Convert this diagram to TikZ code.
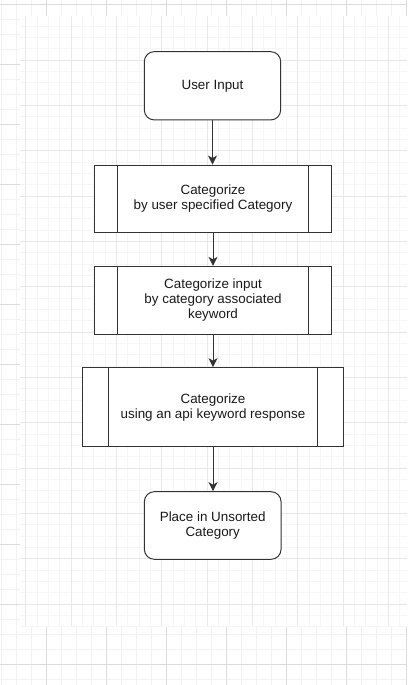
\documentclass[tikz,border=0pt]{standalone}
\usepackage{fontspec}
\setmainfont{Liberation Sans}
\usetikzlibrary{arrows.meta}
\definecolor{gmajor}{HTML}{DCDCDC}
\definecolor{gminor}{HTML}{F2F2F2}
\definecolor{imajor}{HTML}{E8E8E8}
\definecolor{iminor}{HTML}{F6F6F6}
\definecolor{lin}{HTML}{333333}
\definecolor{txt}{HTML}{1A1A1A}
\tikzset{
  base/.style={draw=lin, line width=1pt, fill=white, inner sep=0pt, align=center,
    text=txt, font=\fontsize{13.4}{15}\selectfont},
  term/.style={base, rounded corners=10pt},
  proc/.style={base},
  flow/.style={draw=lin, line width=1pt, -{Stealth[length=9pt,width=9pt,inset=2.5pt]}},
  bar/.style={draw=lin, line width=1pt}
}
\begin{document}
\begin{tikzpicture}[x=1pt,y=-1pt]
\useasboundingbox (0,0) rectangle (407,685);
\fill[white] (0,0) rectangle (407,685);
% outer grid
\foreach \i in {0,...,27} {\draw[gminor,line width=0.8pt] (1+15*\i,0) -- (1+15*\i,685);}
\foreach \i in {0,...,45} {\draw[gminor,line width=0.8pt] (0,4+15*\i) -- (407,4+15*\i);}
\foreach \i in {0,...,6} {\draw[gmajor,line width=0.8pt] (46+60*\i,0) -- (46+60*\i,685);}
\foreach \i in {0,...,11} {\draw[gmajor,line width=0.8pt] (0,4+60*\i) -- (407,4+60*\i);}
% inner sheet
\begin{scope}
\clip (20,16) rectangle (407,626);
\fill[white] (20,16) rectangle (407,626);
\foreach \i in {0,...,35} {\draw[iminor,line width=0.8pt] (14.33+11.333*\i,16) -- (14.33+11.333*\i,626);}
\foreach \i in {0,...,55} {\draw[iminor,line width=0.8pt] (20,3.33+11.333*\i) -- (407,3.33+11.333*\i);}
\foreach \i in {0,...,9} {\draw[imajor,line width=0.8pt] (25.67+45.333*\i,16) -- (25.67+45.333*\i,626);}
\foreach \i in {0,...,13} {\draw[imajor,line width=0.8pt] (20,14.67+45.333*\i) -- (407,14.67+45.333*\i);}
\end{scope}
% nodes
\node[term, minimum width=136.4pt, minimum height=68.3pt] (n1) at (212.5,85.8) {User Input};
\node[proc, minimum width=237.4pt, minimum height=67.3pt] (n2) at (213,198.7) {Categorize\\by user specified Category};
\node[proc, minimum width=237.4pt, minimum height=67.7pt] (n3) at (213,300.2) {Categorize input\\by category associated\\keyword};
\node[proc, minimum width=260.6pt, minimum height=79.3pt] (n4) at (213,407.3) {Categorize\\using an api keyword response};
\node[term, minimum width=136.7pt, minimum height=67.6pt] (n5) at (212.7,525.5) {Place in Unsorted\\Category};
% subprocess bars
\draw[bar] ([xshift=24pt]n2.north west) -- ([xshift=24pt]n2.south west);
\draw[bar] ([xshift=-24pt]n2.north east) -- ([xshift=-24pt]n2.south east);
\draw[bar] ([xshift=24pt]n3.north west) -- ([xshift=24pt]n3.south west);
\draw[bar] ([xshift=-24pt]n3.north east) -- ([xshift=-24pt]n3.south east);
\draw[bar] ([xshift=26.6pt]n4.north west) -- ([xshift=26.6pt]n4.south west);
\draw[bar] ([xshift=-26.6pt]n4.north east) -- ([xshift=-26.6pt]n4.south east);
% connectors
\draw[flow] (n1.south) -- (n1.south |- n2.north);
\draw[flow] (n2.south) -- (n2.south |- n3.north);
\draw[flow] (n3.south) -- (n3.south |- n4.north);
\draw[flow] (n4.south) -- (n4.south |- n5.north);
\end{tikzpicture}
\end{document}
